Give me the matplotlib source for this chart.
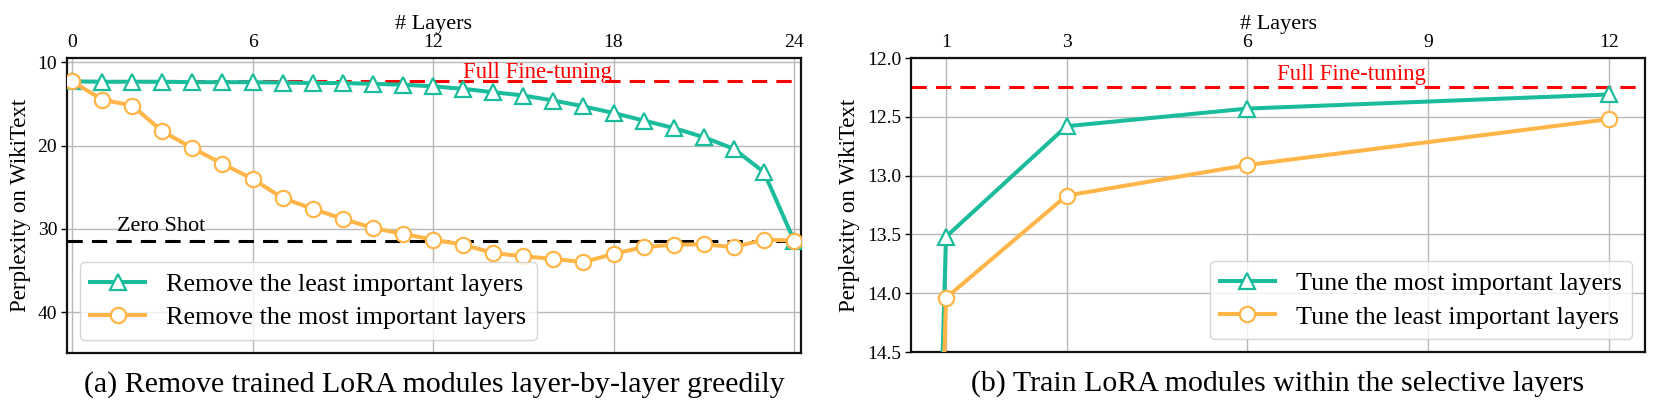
import matplotlib
matplotlib.use('Agg')
import matplotlib.pyplot as plt

plt.rcParams['font.family'] = ['Liberation Serif', 'DejaVu Serif']

green = '#1abc9c'
orange = '#ffb547'

# panel (a): remove LoRA modules layer by layer
layers_a = list(range(25))
remove_least = [12.3, 12.35, 12.35, 12.35, 12.4, 12.4, 12.4, 12.45, 12.5, 12.5,
                12.6, 12.7, 12.9, 13.2, 13.6, 14.0, 14.6, 15.3, 16.1, 17.0,
                17.9, 19.0, 20.4, 23.2, 31.4]
remove_most = [12.3, 14.5, 15.2, 18.3, 20.3, 22.2, 24.0, 26.3, 27.6, 28.8,
               29.9, 30.6, 31.3, 31.9, 32.9, 33.3, 33.6, 34.0, 33.0, 32.2,
               31.9, 31.85, 32.2, 31.3, 31.4]
full_ft_a = 12.25
zero_shot = 31.4
xticks_a = [0, 6, 12, 18, 24]
yticks_a = [10, 20, 30, 40]

# panel (b): train LoRA within selected layers
layers_b = [0, 1, 3, 6, 12]
tune_most = [31.4, 13.52, 12.58, 12.43, 12.31]
tune_least = [31.4, 14.04, 13.17, 12.91, 12.52]
full_ft_b = 12.25
xticks_b = [1, 3, 6, 9, 12]
yticks_b = [12.0, 12.5, 13.0, 13.5, 14.0, 14.5]

fig = plt.figure(figsize=(16.61, 4.15), dpi=100)
ax1 = fig.add_axes([0.0403, 0.1494, 0.4419, 0.7108])
ax2 = fig.add_axes([0.5485, 0.1518, 0.4419, 0.7084])

line_kw = dict(linewidth=2.9, markersize=11, markeredgewidth=1.6,
               markerfacecolor='white', zorder=3)


def style(ax):
    ax.grid(True, color='#b8b8b8', linewidth=1.0, zorder=0)
    ax.set_axisbelow(True)
    for s in ax.spines.values():
        s.set_color('#111111')
        s.set_linewidth(1.6)
    ax.xaxis.tick_top()
    ax.xaxis.set_label_position('top')
    ax.tick_params(axis='x', length=0, labelsize=14, pad=5)
    ax.tick_params(axis='y', length=4, width=1.0, labelsize=14, pad=3)
    ax.set_xlabel('# Layers', fontsize=16, labelpad=4)
    ax.set_ylabel('Perplexity on WikiText', fontsize=16.5, labelpad=5)


def legend(ax, loc):
    ax.legend(loc=loc, fontsize=18.8, framealpha=0.8, edgecolor='#cccccc',
              borderaxespad=0.5, handlelength=2.1, labelspacing=0.4,
              borderpad=0.4, handletextpad=0.8)


# (a)
ax1.axhline(full_ft_a, color='red', linestyle=(0, (5, 3)), linewidth=2.2, zorder=2)
ax1.axhline(zero_shot, color='black', linestyle=(0, (5, 3)), linewidth=2.2, zorder=2)
ax1.plot(layers_a, remove_least, color=green, marker='^',
         label='Remove the least important layers', **line_kw)
ax1.plot(layers_a, remove_most, color=orange, marker='o',
         label='Remove the most important layers', **line_kw)
ax1.text(1.5, 30.3, 'Zero Shot', fontsize=16, color='black')
ax1.text(13.0, 11.9, 'Full Fine-tuning', fontsize=16.4, color='red')
ax1.set_xlim(-0.17, 24.23)
ax1.set_ylim(44.9, 9.5)
ax1.set_xticks(xticks_a)
ax1.set_yticks(yticks_a)
style(ax1)
legend(ax1, 'lower left')
ax1.text(0.5, -0.108, '(a) Remove trained LoRA modules layer-by-layer greedily',
         transform=ax1.transAxes, ha='center', va='center', fontsize=21.5)

# (b)
ax2.axhline(full_ft_b, color='red', linestyle=(0, (5, 3)), linewidth=2.2, zorder=2)
ax2.plot(layers_b, tune_most, color=green, marker='^',
         label='Tune the most important layers', **line_kw)
ax2.plot(layers_b, tune_least, color=orange, marker='o',
         label='Tune the least important layers', **line_kw)
ax2.text(6.5, 12.19, 'Full Fine-tuning', fontsize=16.4, color='red')
ax2.set_xlim(0.42, 12.6)
ax2.set_ylim(14.5, 12.0)
ax2.set_xticks(xticks_b)
ax2.set_yticks(yticks_b)
ax2.set_yticklabels([f'{v:.1f}' for v in yticks_b])
style(ax2)
legend(ax2, 'lower right')
ax2.text(0.5, -0.108, '(b) Train LoRA modules within the selective layers',
         transform=ax2.transAxes, ha='center', va='center', fontsize=21.5)

fig.savefig('out.png', dpi=100)
